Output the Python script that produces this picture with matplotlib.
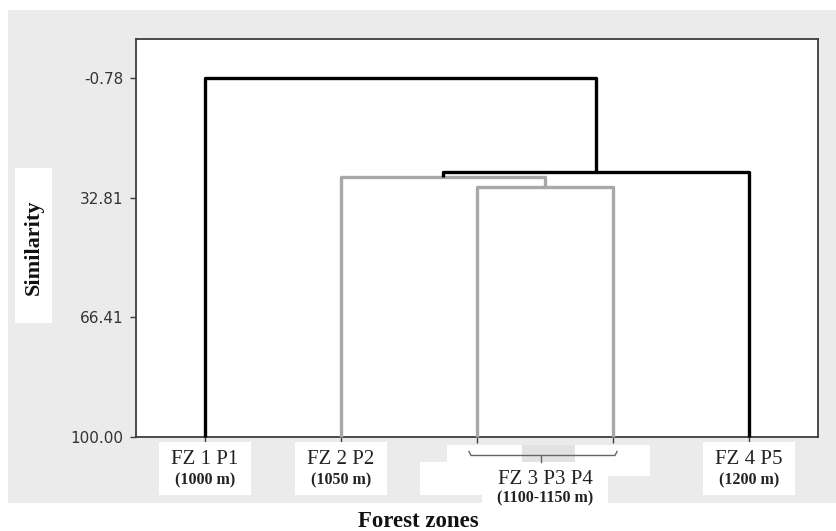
import matplotlib
matplotlib.use("Agg")
import matplotlib.pyplot as plt
from matplotlib.patches import Rectangle
from matplotlib.lines import Line2D

plt.rcParams["font.family"] = ["DejaVu Sans"]

# ---------------- data ----------------
leaf_names = ["FZ 1 P1", "FZ 2 P2", "FZ 3 P3", "FZ 3 P4", "FZ 4 P5"]
# scipy-style linkage: clusters 0..4 are leaves, each merge creates a new id 5, 6, ...
merge_a = [2, 1, 6, 0]
merge_b = [3, 5, 4, 7]
merge_sim = [29.7, 27.1, 25.7, -0.78]
merge_color = ["#a8a8a8", "#a8a8a8", "#000000", "#000000"]
ytick_vals = [-0.78, 32.81, 66.41, 100.00]
group_labels = ["FZ 1 P1", "FZ 2 P2", "FZ 3 P3 P4", "FZ 4 P5"]
group_alt = ["(1000 m)", "(1050 m)", "(1100-1150 m)", "(1200 m)"]
group_leaves = [[0], [1], [2, 3], [4]]

W, H = 836, 531
SERIF = "Liberation Serif"
BG = "#ebebeb"


def fx(x):
    return x / W


def fy(y):
    return 1 - y / H


fig = plt.figure(figsize=(W / 100, H / 100), dpi=100)
fig.patch.set_facecolor("white")

# grey panel background
fig.add_artist(Rectangle((fx(8), fy(503)), (836 - 8) / W, (503 - 10) / H,
                         transform=fig.transFigure, facecolor=BG,
                         edgecolor="none", zorder=-5))

ax = fig.add_axes([fx(136), fy(437), (818 - 136) / W, (437 - 39) / H])
ax.set_facecolor("white")
ax.set_xlim(0.493, 5.507)
ax.set_ylim(100, -11.73)

# --------------- dendrogram ---------------
xpos = {i: i + 1.0 for i in range(len(leaf_names))}
hpos = {i: 100.0 for i in range(len(leaf_names))}
nid = len(leaf_names)
for a, b, s, c in zip(merge_a, merge_b, merge_sim, merge_color):
    xa, xb = xpos[a], xpos[b]
    ax.plot([xa, xa, xb, xb], [hpos[a], s, s, hpos[b]], color=c, lw=2.4,
            solid_joinstyle="round", solid_capstyle="butt", zorder=3,
            clip_on=False)
    xpos[nid] = (xa + xb) / 2
    hpos[nid] = s
    nid += 1

# --------------- axes styling ---------------
for sp in ax.spines.values():
    sp.set_color("#3c3c3c")
    sp.set_linewidth(1.3)
ax.set_yticks(ytick_vals)
ax.set_yticklabels([f"{v:.2f}" for v in ytick_vals])
ax.tick_params(axis="y", direction="out", length=4.3, width=1.0,
               color="#3c3c3c", pad=5, labelsize=11, labelcolor="#333333")
ax.set_xticks([i + 1 for i in range(len(leaf_names))])
ax.set_xticklabels([])
ax.tick_params(axis="x", direction="out", length=4.3, width=1.0,
               color="#3c3c3c")


# --------------- leaf labels ---------------
def leaf_px(xd):
    return ax.transData.transform((xd, 100))[0]


def white_box(x0, y0, x1, y1, color="white", z=1):
    fig.add_artist(Rectangle((fx(x0), fy(y1)), (x1 - x0) / W, (y1 - y0) / H,
                             transform=fig.transFigure, facecolor=color,
                             edgecolor="none", zorder=z))


for lbl, alt, leaves in zip(group_labels, group_alt, group_leaves):
    cx = sum(leaf_px(l + 1) for l in leaves) / len(leaves)
    if len(leaves) == 1:
        white_box(cx - 46, 442, cx + 46, 495)
        fig.text(fx(cx), fy(460), lbl, family=SERIF, fontsize=15,
                 color="#222222", ha="center", va="center", zorder=3)
        fig.text(fx(cx), fy(480.5), alt, family=SERIF, fontsize=11.5,
                 fontweight="bold", color="#222222", ha="center",
                 va="center", zorder=3)
    else:
        xl = leaf_px(leaves[0] + 1)
        xr = leaf_px(leaves[-1] + 1)
        white_box(cx - 98, 445, cx + 105, 476)
        white_box(cx - 125, 462, cx + 63, 495)
        white_box(cx - 63, 495, cx + 63, 509)
        white_box(cx - 23, 445, cx + 30, 462, color="#e2e2e2", z=1.5)
        # bracket
        bx0, bx1, by = xl - 8, xr + 4, 455.5
        for xs, ys in [([bx0, bx0 + 2, bx1 - 2, bx1], [451.5, by, by, 451.5]),
                       ([cx - 4, cx - 4], [by, 461.5])]:
            fig.add_artist(Line2D([fx(v) for v in xs], [fy(v) for v in ys],
                                  transform=fig.transFigure, color="#666666",
                                  lw=1.0, zorder=3))
        fig.text(fx(cx), fy(479), lbl, family=SERIF, fontsize=15,
                 color="#222222", ha="center", va="center", zorder=3)
        fig.text(fx(cx), fy(498.5), alt, family=SERIF, fontsize=11.5,
                 fontweight="bold", color="#222222", ha="center",
                 va="center", zorder=3)

# --------------- axis titles ---------------
white_box(15, 168, 52, 323)
fig.text(fx(33.5), fy(247), "Similarity", family=SERIF, fontsize=16,
         fontweight="bold", rotation=90, ha="center", va="center",
         color="#111111", zorder=3)
fig.text(fx(418), fy(521.5), "Forest zones", family=SERIF, fontsize=16.5,
         fontweight="bold", ha="center", va="center", color="#111111",
         zorder=3)

fig.savefig("out.png", dpi=100, facecolor="white")
